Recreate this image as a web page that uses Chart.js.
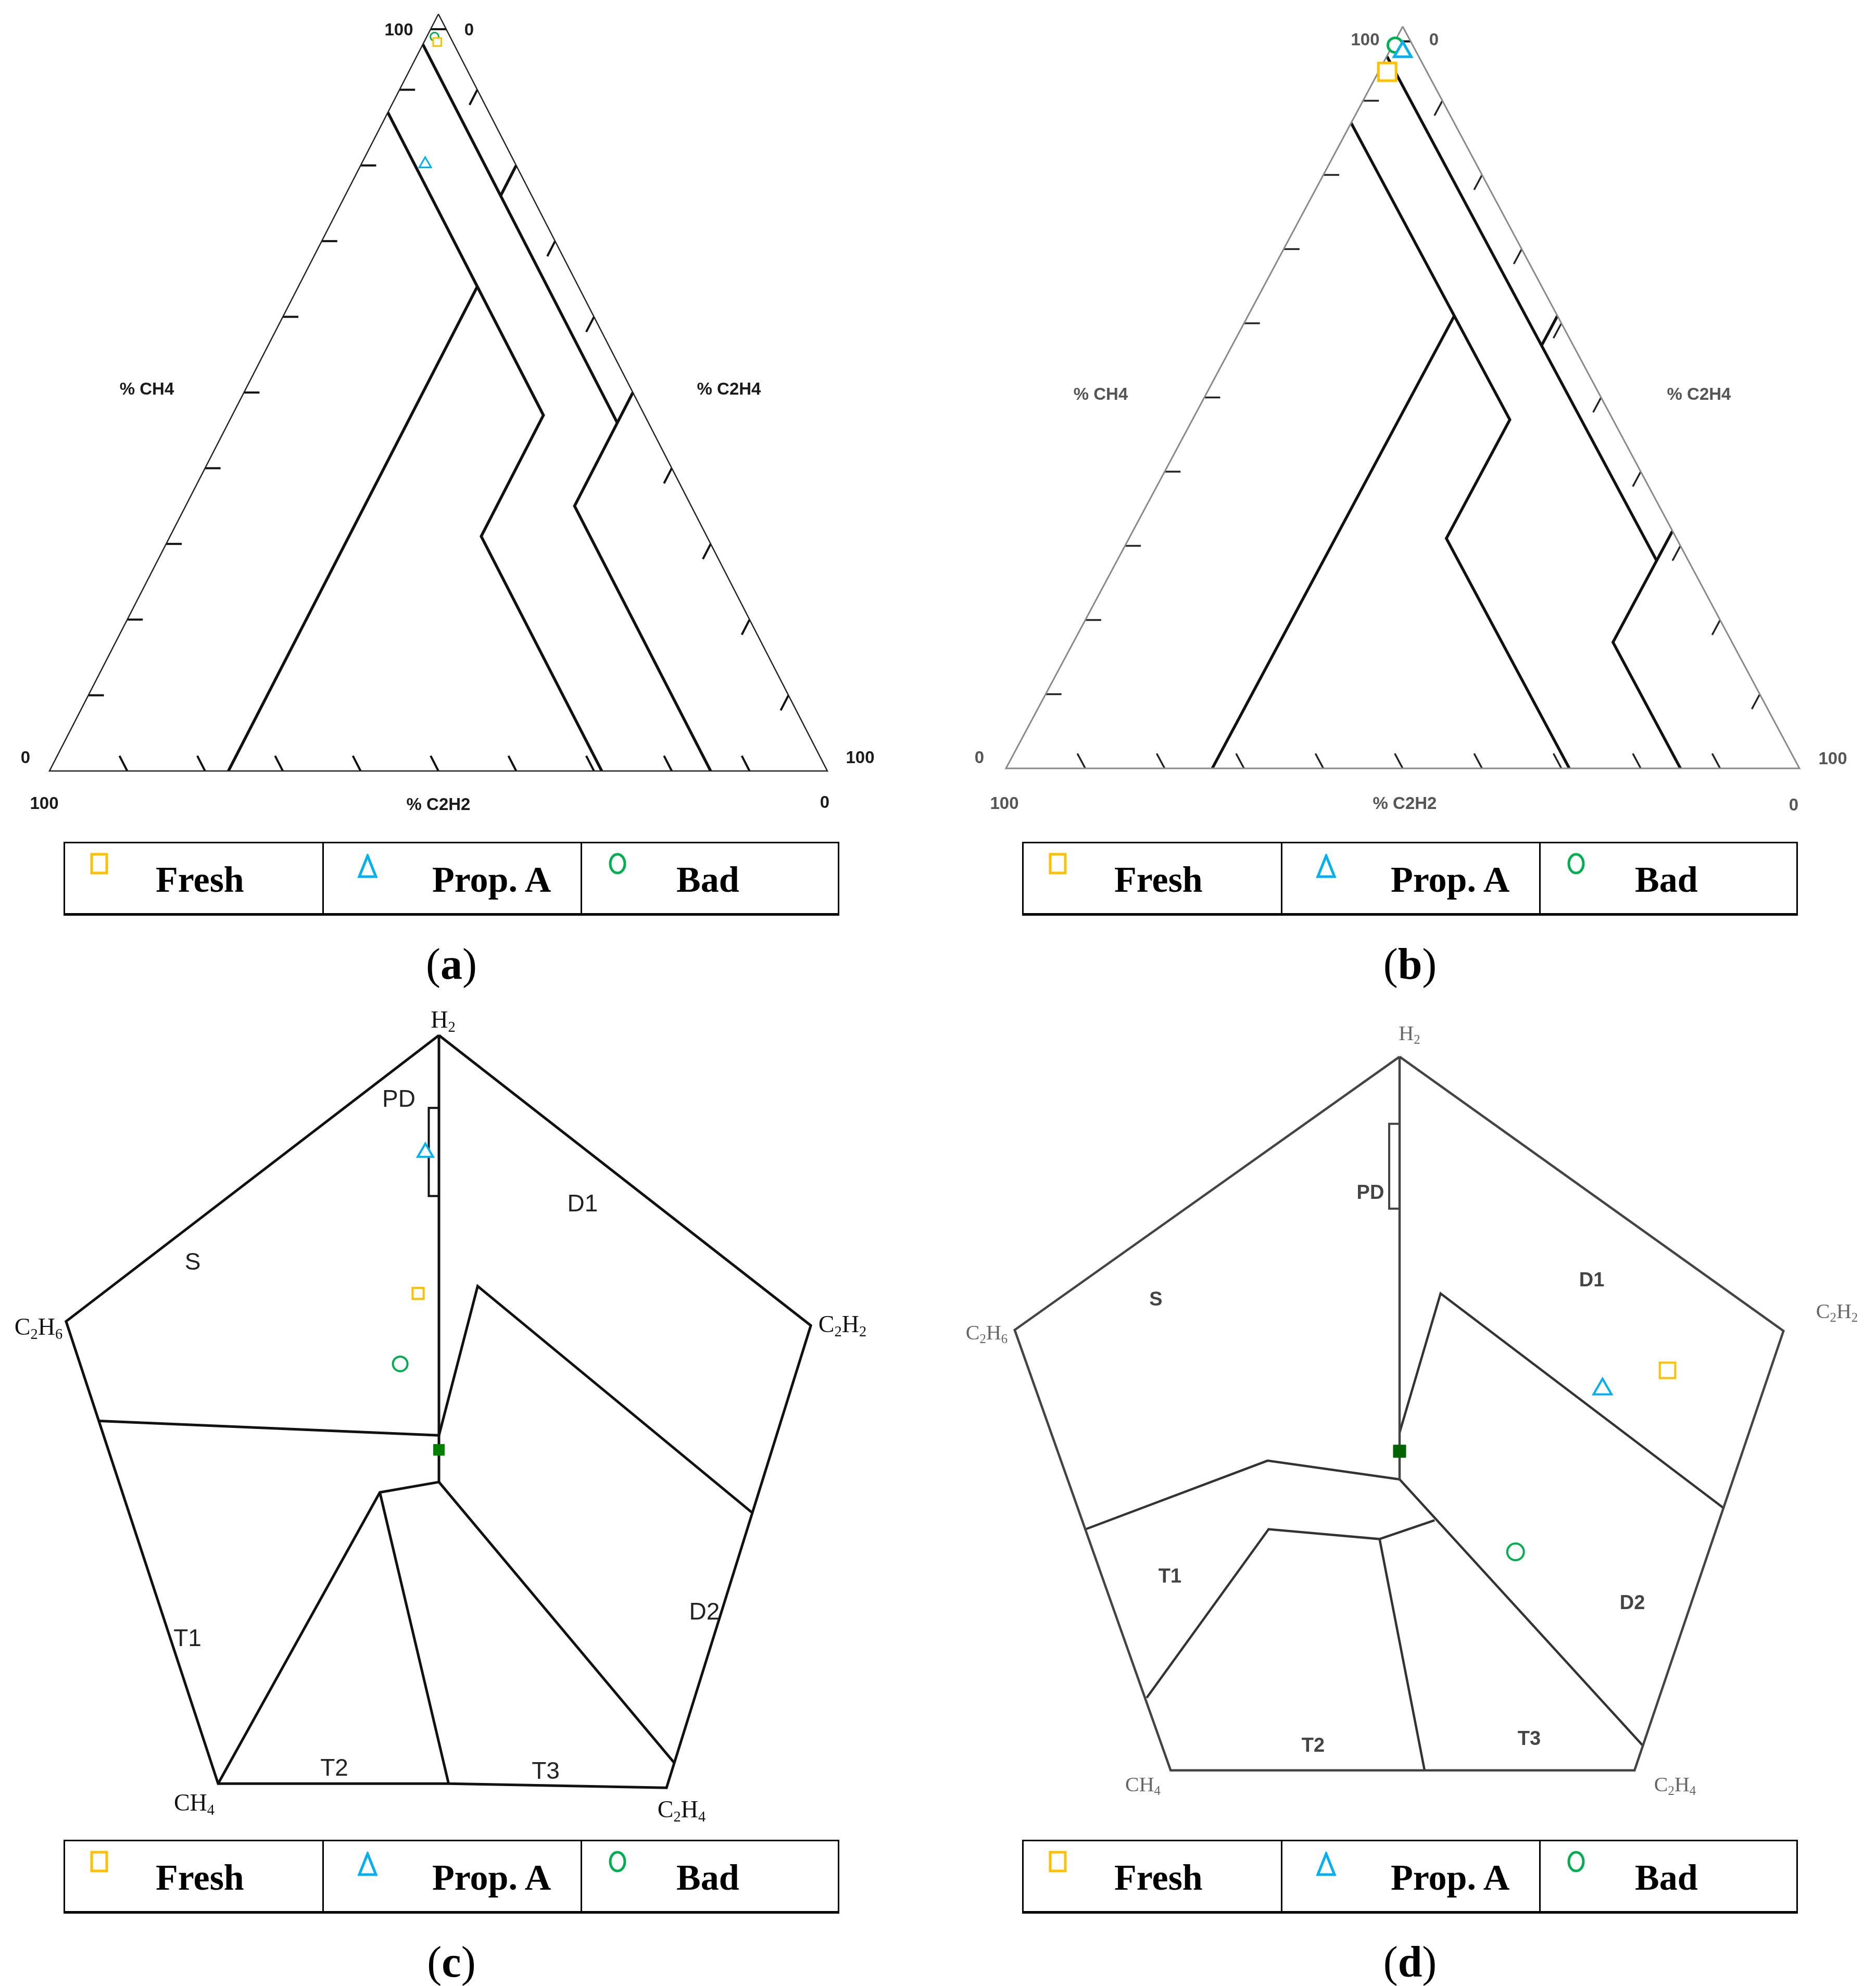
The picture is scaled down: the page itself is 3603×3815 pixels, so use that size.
<!DOCTYPE html>
<html>
<head>
<meta charset="utf-8">
<script src="https://cdn.jsdelivr.net/npm/chart.js@4.4.0/dist/chart.umd.min.js"></script>
<style>
  html, body { margin: 0; padding: 0; background: #fff; }
  body { width: 3603px; height: 3815px; position: relative; overflow: hidden; }
  canvas { position: absolute; }
  .t { position: absolute; transform: translate(-50%, -50%); white-space: nowrap; line-height: 1; }
  .triA { font: bold 33px "Liberation Sans", Arial, sans-serif; color: #1a1a1a; }
  .triB { font: bold 33px "Liberation Sans", Arial, sans-serif; color: #555; }
  .vtxC { font: 46px "Liberation Serif", "Times New Roman", serif; color: #111; }
  .zoneC { font: 46px "Liberation Sans", Arial, sans-serif; color: #222; }
  .vtxD { font: 40px "Liberation Serif", "Times New Roman", serif; color: #666; }
  .zoneD { font: bold 38px "Liberation Sans", Arial, sans-serif; color: #444; }
  .cap { font: 84px "Liberation Serif", "Times New Roman", serif; color: #000; }
  sub { font-size: 0.62em; vertical-align: -0.3em; line-height: 0; }
  .legend { position: absolute; width: 1484px; height: 134px; border: 3px solid #000; border-bottom-width: 5px; }
  .legend .div { position: absolute; top: 0; width: 3px; height: 134px; background: #000; }
  .legend .txt { position: absolute; top: 35px; font: bold 70px "Liberation Serif", "Times New Roman", serif; line-height: 1; color: #000; }
  .legend svg { position: absolute; }
</style>
</head>
<body>
<script>
// ---- ternary panels (a) and (b): points are [CH4, C2H4, C2H2] in % ----
const triTicks = [10, 20, 30, 40, 50, 60, 70, 80, 90];
const triAxisTitles = ['% CH4', '% C2H4', '% C2H2'];
const triEndLabels = ['100', '0'];
const triOutline = [[100, 0, 0], [0, 100, 0], [0, 0, 100], [100, 0, 0]];

const triA_pd = [[98, 0, 2], [98, 2, 0]];
const triA_c2h2low = [[96, 0, 4], [46, 50, 4]];
const triA_t1t2 = [[80, 20, 0], [76, 20, 4]];
const triA_t3 = [[50, 50, 0], [35, 50, 15], [0, 85, 15]];
const triA_d2 = [[87, 0, 13], [47, 40, 13], [31, 40, 29], [0, 71, 29]];
const triA_d1d2 = [[64, 23, 13], [0, 23, 77]];
const triA_fresh = [[96.3, 1.7, 2.0]];
const triA_propA = [[80.2, 8.2, 11.6]];
const triA_bad = [[97.0, 1.0, 2.0]];

const triB_pd = [[98, 0, 2], [98, 2, 0]];
const triB_c2h2low = [[96, 0, 4], [28, 68, 4]];
const triB_t1t2 = [[61, 39, 0], [57, 39, 4]];
const triB_t3 = [[32, 68, 0], [17, 68, 15], [0, 85, 15]];
const triB_d2 = [[87, 0, 13], [47, 40, 13], [31, 40, 29], [0, 71, 29]];
const triB_d1d2 = [[61, 26, 13], [0, 26, 74]];
const triB_fresh = [[93.9, 1.1, 5.0]];
const triB_propA = [[96.6, 1.7, 1.7]];
const triB_bad = [[97.5, 0.3, 2.2]];

// ---- pentagon panels (c) and (d): points are [x, y] in pentagon units ----
const pentVertices = ['H<sub>2</sub>', 'C<sub>2</sub>H<sub>2</sub>', 'C<sub>2</sub>H<sub>4</sub>', 'CH<sub>4</sub>', 'C<sub>2</sub>H<sub>6</sub>'];
const pentZones = ['PD', 'D1', 'S', 'T1', 'T2', 'T3', 'D2'];
const pentCentre = [[0, 0]];

const pentC_outline = [[0, 40], [38.4, 12.0], [23.5, -32.6], [1.0, -32.2], [-22.8, -32.2], [-38.5, 12.4], [0, 40]];
const pentC_vertical = [[0, 40], [0, -3.1]];
const pentC_pd = [[0, 33], [-1.05, 33], [-1.05, 24.5], [0, 24.5]];
const pentC_sT1 = [[-35.1, 2.8], [0, 1.4]];
const pentC_d1d2 = [[0, 1.4], [4.0, 15.8], [32.4, -6.1]];
const pentC_t1t2 = [[-22.8, -32.2], [-6.1, -4.1], [0, -3.1]];
const pentC_t2t3 = [[-6.1, -4.1], [1.0, -32.2]];
const pentC_d2t3 = [[0, -3.1], [24.3, -30.2]];
const pentC_fresh = [[-2.15, 15.1]];
const pentC_propA = [[-1.4, 28.7]];
const pentC_bad = [[-4.0, 8.3]];

const pentD_outline = [[0, 40], [38.4, 12.2], [23.5, -32.35], [-22.9, -32.35], [-38.5, 12.3], [0, 40]];
const pentD_vertical = [[0, 40], [0, -2.85]];
const pentD_pd = [[0, 33.2], [-1.04, 33.2], [-1.04, 24.6], [0, 24.6]];
const pentD_d1d2 = [[0, 1.9], [4.1, 16.0], [32.4, -5.75]];
const pentD_sT1 = [[-31.4, -7.9], [-13.2, -0.95], [0, -2.85]];
const pentD_d2t3 = [[0, -2.85], [24.3, -29.8]];
const pentD_t1t2 = [[-25.3, -25.0], [-13.1, -7.9], [-2.0, -8.9], [2.5, -32.35]];
const pentD_t2t3 = [[-2.0, -8.9], [3.5, -7.0]];
const pentD_fresh = [[26.8, 8.2]];
const pentD_propA = [[20.3, 6.3]];
const pentD_bad = [[11.6, -10.2]];

const seriesNames = ['Fresh', 'Prop. A', 'Bad'];
const seriesColors = ['#FFC000', '#00B0F0', '#00B050'];

// ---------------------------------------------------------------
const tri = pts => pts.map(p => ({ x: p[1] + p[0] / 2, y: p[0] }));
const xy = pts => pts.map(p => ({ x: p[0], y: p[1] }));

function line(data, color, width) {
  return { data, showLine: true, borderColor: color, borderWidth: width, pointRadius: 0,
    pointHoverRadius: 0, fill: false, tension: 0, clip: false, order: 10,
    borderJoinStyle: 'miter', borderCapStyle: 'butt' };
}
function mark(data, style, color, r, bw, order, fillColor) {
  return { data, showLine: false, pointStyle: style, pointRadius: r, pointHoverRadius: r,
    borderColor: color, pointBorderColor: color, backgroundColor: fillColor || '#fff',
    pointBackgroundColor: fillColor || '#fff', pointBorderWidth: bw, borderWidth: bw,
    clip: false, order };
}

function tickSegs() {
  const segs = [];
  triTicks.forEach(k => {
    segs.push([[k, 0, 100 - k], [k, 2, 98 - k]]);
    segs.push([[100 - k, k, 0], [98 - k, k, 2]]);
    segs.push([[0, k, 100 - k], [2, k - 2, 100 - k]]);
  });
  return segs;
}

function makeChart(box, pad, xr, yr, datasets) {
  const cv = document.createElement('canvas');
  cv.width = box.w; cv.height = box.h;
  cv.style.left = box.x + 'px'; cv.style.top = box.y + 'px';
  document.body.appendChild(cv);
  return new Chart(cv, {
    type: 'scatter',
    data: { datasets },
    options: {
      responsive: false, animation: false, devicePixelRatio: 1,
      layout: { padding: pad },
      plugins: { legend: { display: false }, tooltip: { enabled: false } },
      scales: {
        x: { type: 'linear', min: xr[0], max: xr[1], display: false },
        y: { type: 'linear', min: yr[0], max: yr[1], display: false }
      }
    }
  });
}

// (a)
makeChart({ x: 0, y: 0, w: 1800, h: 1600 }, { left: 95, top: 27, right: 211, bottom: 119 }, [0, 100], [0, 100], [
  mark(tri(triA_fresh), 'rect', seriesColors[0], 11, 3, 0),
  mark(tri(triA_propA), 'triangle', seriesColors[1], 13, 3, 1),
  mark(tri(triA_bad), 'circle', seriesColors[2], 8, 3, 2),
  line(tri(triOutline), '#222', 2.5),
  ...tickSegs().map(s => line(tri(s), '#111', 4)),
  line(tri(triA_pd), '#111', 4),
  line(tri(triA_c2h2low), '#111', 5.5),
  line(tri(triA_t1t2), '#111', 5.5),
  line(tri(triA_t3), '#111', 5.5),
  line(tri(triA_d2), '#111', 5.5),
  line(tri(triA_d1d2), '#111', 5.5)
]);

// (b)
makeChart({ x: 1850, y: 0, w: 1753, h: 1600 }, { left: 82, top: 51, right: 147, bottom: 124 }, [0, 100], [0, 100], [
  mark(tri(triB_fresh), 'rect', seriesColors[0], 24, 5, 0),
  mark(tri(triB_propA), 'triangle', seriesColors[1], 19, 5, 1),
  mark(tri(triB_bad), 'circle', seriesColors[2], 14, 5, 2),
  line(tri(triOutline), '#8a8a8a', 3),
  ...tickSegs().map(s => line(tri(s), '#222', 3.5)),
  line(tri(triB_pd), '#111', 4),
  line(tri(triB_c2h2low), '#111', 5.5),
  line(tri(triB_t1t2), '#111', 5.5),
  line(tri(triB_t3), '#111', 5.5),
  line(tri(triB_d2), '#111', 5.5),
  line(tri(triB_d1d2), '#111', 5.5)
]);

// (c)
makeChart({ x: 0, y: 1900, w: 1800, h: 1620 }, { left: 99, top: 49, right: 213, bottom: 38 }, [-40, 40], [-35, 42], [
  mark(xy(pentC_fresh), 'rect', seriesColors[0], 15, 4, 0),
  mark(xy(pentC_propA), 'triangle', seriesColors[1], 17, 4, 1),
  mark(xy(pentC_bad), 'circle', seriesColors[2], 14, 4, 2),
  mark(xy(pentCentre), 'rect', '#008000', 15, 1, 3, '#008000'),
  line(xy(pentC_outline), '#111', 5),
  line(xy(pentC_vertical), '#111', 5),
  line(xy(pentC_pd), '#111', 4),
  line(xy(pentC_sT1), '#111', 5),
  line(xy(pentC_d1d2), '#111', 5),
  line(xy(pentC_t1t2), '#111', 5),
  line(xy(pentC_t2t3), '#111', 5),
  line(xy(pentC_d2t3), '#111', 5)
]);

// (d)
makeChart({ x: 1850, y: 1900, w: 1753, h: 1620 }, { left: 70, top: 92, right: 147, bottom: 69 }, [-40, 40], [-35, 42], [
  mark(xy(pentD_fresh), 'rect', seriesColors[0], 21, 4, 0),
  mark(xy(pentD_propA), 'triangle', seriesColors[1], 20, 4, 1),
  mark(xy(pentD_bad), 'circle', seriesColors[2], 16, 4, 2),
  mark(xy(pentCentre), 'rect', '#006400', 17, 1, 3, '#006400'),
  line(xy(pentD_outline), '#444', 4.5),
  line(xy(pentD_vertical), '#444', 4.5),
  line(xy(pentD_pd), '#444', 4),
  line(xy(pentD_d1d2), '#333', 4.5),
  line(xy(pentD_sT1), '#333', 4.5),
  line(xy(pentD_d2t3), '#333', 4.5),
  line(xy(pentD_t1t2), '#333', 4.5),
  line(xy(pentD_t2t3), '#333', 4.5)
]);

// ---- text ----
function label(html, x, y, cls) {
  const d = document.createElement('div');
  d.className = 't ' + cls;
  d.innerHTML = html;
  d.style.left = x + 'px'; d.style.top = y + 'px';
  document.body.appendChild(d);
}
const [hi, lo] = triEndLabels;
[['A', [766, 57], [901, 57], [282, 747], [1400, 747], [49, 1455], [85, 1543], [842, 1545], [1652, 1455], [1584, 1541]],
 ['B', [2622, 76], [2754, 76], [2114, 757], [3263, 757], [1881, 1455], [1929, 1543], [2698, 1543], [3520, 1457], [3445, 1546]]
].forEach(([k, tHi, tLo, aCH4, aC2H4, blLo, blHi, aC2H2, brHi, brLo]) => {
  const c = 'tri' + k;
  label(hi, ...tHi, c); label(lo, ...tLo, c);
  label(triAxisTitles[0], ...aCH4, c); label(triAxisTitles[1], ...aC2H4, c);
  label(lo, ...blLo, c); label(hi, ...blHi, c);
  label(triAxisTitles[2], ...aC2H2, c);
  label(hi, ...brHi, c); label(lo, ...brLo, c);
});

const vtxPosC = [[851, 1958], [1618, 2543], [1309, 3475], [373, 3462], [74, 2548]];
const zonePosC = [[766, 2110], [1119, 2311], [370, 2423], [360, 3146], [642, 3395], [1048, 3401], [1353, 3095]];
const vtxPosD = [[2707, 1984], [3528, 2518], [3217, 3427], [2195, 3427], [1895, 2559]];
const zonePosD = [[2632, 2290], [3057, 2458], [2220, 2495], [2247, 3027], [2522, 3352], [2937, 3339], [3135, 3078]];
pentVertices.forEach((v, i) => { label(v, ...vtxPosC[i], 'vtxC'); label(v, ...vtxPosD[i], 'vtxD'); });
pentZones.forEach((z, i) => { label(z, ...zonePosC[i], 'zoneC'); label(z, ...zonePosD[i], 'zoneD'); });

// ---- legend boxes ----
function icon(i) {
  const c = seriesColors[i];
  if (i === 0) return `<svg width="40" height="46" style="left:46px;top:16px"><rect x="5" y="5" width="29" height="36" fill="none" stroke="${c}" stroke-width="5"/></svg>`;
  if (i === 1) return `<svg width="44" height="50" style="left:559px;top:20px"><polygon points="22,4 38,44 6,44" fill="none" stroke="${c}" stroke-width="5" stroke-linejoin="miter"/></svg>`;
  return `<svg width="44" height="50" style="left:1039px;top:14px"><ellipse cx="22" cy="25" rx="14" ry="18" fill="none" stroke="${c}" stroke-width="5"/></svg>`;
}
const textLeft = [174, 705, 1174];
function legendBox(left, top) {
  const b = document.createElement('div');
  b.className = 'legend';
  b.style.left = left + 'px'; b.style.top = top + 'px';
  let h = '<div class="div" style="left:494px"></div><div class="div" style="left:990px"></div>';
  seriesNames.forEach((n, i) => {
    h += icon(i) + `<div class="txt" style="left:${textLeft[i]}px">${n}</div>`;
  });
  b.innerHTML = h;
  document.body.appendChild(b);
}
legendBox(122, 1617);
legendBox(1963, 1617);
legendBox(122, 3534);
legendBox(1963, 3534);

const panelTags = ['a', 'b', 'c', 'd'];
const capPos = [[867, 1851], [2708, 1851], [867, 3768], [2708, 3768]];
panelTags.forEach((t, i) => label(`(<b>${t}</b>)`, ...capPos[i], 'cap'));
</script>
</body>
</html>
